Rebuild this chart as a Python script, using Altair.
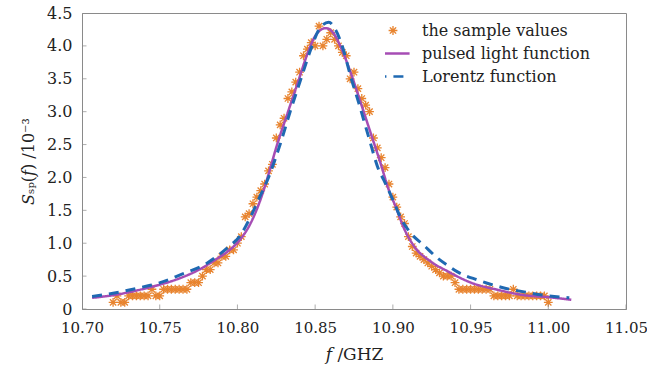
import altair as alt
import pandas as pd

# ---------------- data ----------------
series_names = ["the sample values", "pulsed light function", "Lorentz function"]
series_colors = ["#E8842F", "#A64DB4", "#1F69B2"]

sample_freq = [
    10.7200, 10.7225, 10.7250, 10.7275, 10.7300, 10.7325, 10.7350, 10.7375, 10.7400, 10.7425,
    10.7450, 10.7475, 10.7500, 10.7525, 10.7550, 10.7575, 10.7600, 10.7625, 10.7650, 10.7675,
    10.7700, 10.7725, 10.7750, 10.7775, 10.7800, 10.7825, 10.7850, 10.7875, 10.7900, 10.7925,
    10.7950, 10.7975, 10.8000, 10.8025, 10.8050, 10.8075, 10.8100, 10.8125, 10.8150, 10.8175,
    10.8200, 10.8225, 10.8250, 10.8275, 10.8300, 10.8325, 10.8350, 10.8375, 10.8400, 10.8425,
    10.8450, 10.8475, 10.8500, 10.8525, 10.8550, 10.8575, 10.8600, 10.8625, 10.8650, 10.8675,
    10.8700, 10.8725, 10.8750, 10.8775, 10.8800, 10.8825, 10.8850, 10.8875, 10.8900, 10.8925,
    10.8950, 10.8975, 10.9000, 10.9025, 10.9050, 10.9075, 10.9100, 10.9125, 10.9150, 10.9175,
    10.9200, 10.9225, 10.9250, 10.9275, 10.9300, 10.9325, 10.9350, 10.9375, 10.9400, 10.9425,
    10.9450, 10.9475, 10.9500, 10.9525, 10.9550, 10.9575, 10.9600, 10.9625, 10.9650, 10.9675,
    10.9700, 10.9725, 10.9750, 10.9775, 10.9800, 10.9825, 10.9850, 10.9875, 10.9900, 10.9925,
    10.9950, 10.9975, 11.0000,
]
sample_vals = [
    0.1, 0.2, 0.1, 0.1, 0.2, 0.2, 0.2, 0.2, 0.2, 0.2,
    0.3, 0.2, 0.2, 0.3, 0.3, 0.3, 0.3, 0.3, 0.3, 0.3,
    0.4, 0.4, 0.4, 0.5, 0.6, 0.6, 0.7, 0.7, 0.8, 0.8,
    0.9, 0.9, 1.0, 1.1, 1.4, 1.45, 1.6, 1.7, 1.8, 1.9,
    2.1, 2.2, 2.6, 2.8, 2.9, 3.2, 3.3, 3.45, 3.6, 3.85,
    3.95, 4.05, 4.0, 4.3, 4.0, 4.1, 4.2, 4.1, 4.0, 3.9,
    3.85, 3.5, 3.6, 3.35, 3.2, 3.1, 3.0, 2.6, 2.45, 2.3,
    2.15, 1.9, 1.7, 1.55, 1.4, 1.3, 1.1, 0.95, 0.85, 0.8,
    0.75, 0.7, 0.65, 0.6, 0.55, 0.5, 0.5, 0.5, 0.4, 0.3,
    0.3, 0.3, 0.3, 0.3, 0.3, 0.3, 0.3, 0.3, 0.2, 0.2,
    0.2, 0.2, 0.2, 0.3, 0.2, 0.2, 0.2, 0.2, 0.2, 0.2,
    0.2, 0.2, 0.1,
]

pulsed_freq = [
    10.7065, 10.7200, 10.7419, 10.7632, 10.7755, 10.7865, 10.7935, 10.8019, 10.8084, 10.8168,
    10.8194, 10.8258, 10.8323, 10.8387, 10.8452, 10.8503, 10.8568, 10.8619, 10.8665, 10.8729,
    10.8794, 10.8858, 10.8923, 10.8968, 10.9019, 10.9071, 10.9135, 10.9245, 10.9355, 10.9503,
    10.9677, 10.9845, 11.0000, 11.0148,
]
pulsed_vals = [
    0.17, 0.21, 0.32, 0.47, 0.60, 0.76, 0.87, 1.06, 1.30, 1.80,
    2.00, 2.52, 2.98, 3.43, 3.89, 4.16, 4.27, 4.19, 3.98, 3.59,
    3.13, 2.67, 2.20, 1.85, 1.55, 1.23, 0.96, 0.72, 0.57, 0.40,
    0.29, 0.21, 0.18, 0.14,
]

lorentz_freq = [
    10.7065, 10.7200, 10.7419, 10.7503, 10.7632, 10.7806, 10.7935, 10.8019, 10.8084, 10.8135,
    10.8200, 10.8277, 10.8342, 10.8406, 10.8471, 10.8523, 10.8587, 10.8632, 10.8677, 10.8729,
    10.8781, 10.8845, 10.8910, 10.8942, 10.9000, 10.9052, 10.9116, 10.9194, 10.9290, 10.9355,
    10.9419, 10.9548, 10.9697, 10.9845, 11.0000, 11.0135,
]
lorentz_vals = [
    0.19, 0.24, 0.35, 0.40, 0.52, 0.70, 0.93, 1.12, 1.40, 1.66,
    2.00, 2.52, 3.02, 3.48, 3.94, 4.24, 4.36, 4.24, 3.98, 3.53,
    3.13, 2.61, 2.11, 1.96, 1.66, 1.38, 1.15, 0.98, 0.77, 0.66,
    0.56, 0.44, 0.33, 0.26, 0.20, 0.17,
]

x_tick_values = [10.70, 10.75, 10.80, 10.85, 10.90, 10.95, 11.00, 11.05]
y_tick_values = [0, 0.5, 1.0, 1.5, 2.0, 2.5, 3.0, 3.5, 4.0, 4.5]

# ---------------- chart ----------------
FONT = "DejaVu Serif"
AXIS_GREY = "#8a8a8a"
SYMBOL_SIZE = 1100
ASTERISK = ("M-0.265,0L0.265,0M0,-0.265L0,0.265"
            "M-0.19,-0.19L0.19,0.19M-0.19,0.19L0.19,-0.19")

sample_df = pd.DataFrame({"f": sample_freq, "s": sample_vals, "series": series_names[0]})
pulsed_df = pd.DataFrame({"f": pulsed_freq, "s": pulsed_vals, "series": series_names[1]})
lorentz_df = pd.DataFrame({"f": lorentz_freq, "s": lorentz_vals, "series": series_names[2]})
xt_df = pd.DataFrame({"f": x_tick_values})
yt_df = pd.DataFrame({"s": y_tick_values})

x_scale = alt.Scale(domain=[10.70, 11.05], nice=False, zero=False)
y_scale = alt.Scale(domain=[0, 4.5], nice=False, zero=False)

x_axis = alt.Axis(
    values=x_tick_values, format=".2f", title="𝑓 /GHZ",
    ticks=False, tickSize=0, grid=False, labelPadding=11, titlePadding=11,
    labelFlush=False, labelOverlap=False, labelFontSize=15)
y_axis = alt.Axis(
    values=y_tick_values, format=".1f",
    labelExpr="datum.value == 0 ? '0' : datum.label",
    title="𝑆ₛₚ(𝑓) /10⁻³", titleFontSize=16,
    ticks=False, tickSize=0, grid=False, labelPadding=10, titlePadding=10,
    labelFlush=False, labelOverlap=False)

x_enc = alt.X("f:Q", scale=x_scale, axis=x_axis)
y_enc = alt.Y("s:Q", scale=y_scale, axis=y_axis)

legend = alt.Legend(
    title=None,
    symbolStrokeWidth={"expr": "datum.value === 'the sample values' ? 1.3 : 2.5"},
)
color = alt.Color("series:N", scale=alt.Scale(domain=series_names, range=series_colors),
                  legend=legend)
shape = alt.Shape("series:N", scale=alt.Scale(domain=series_names,
                                              range=[ASTERISK, "stroke", "stroke"]),
                  legend=legend)
dash = alt.StrokeDash("series:N", scale=alt.Scale(domain=series_names,
                                                  range=[[1, 0], [1, 0], [10, 7]]),
                      legend=legend)

points = alt.Chart(sample_df).mark_point(
    filled=False, size=SYMBOL_SIZE, strokeWidth=1.3, opacity=1
).encode(x=x_enc, y=y_enc, color=color, shape=shape)

pulsed = alt.Chart(pulsed_df).mark_line(
    strokeWidth=2.5, interpolate="monotone"
).encode(x=x_enc, y=y_enc, color=color, strokeDash=dash)

lorentz = alt.Chart(lorentz_df).mark_line(
    strokeWidth=3, interpolate="monotone"
).encode(x=x_enc, y=y_enc, color=color, strokeDash=dash)

x_ticks = alt.Chart(xt_df).mark_tick(
    orient="vertical", size=9, thickness=1, color=AXIS_GREY, clip=True
).encode(x=x_enc, y=alt.YDatum(0, scale=y_scale, axis=y_axis))

y_ticks = alt.Chart(yt_df).mark_tick(
    orient="horizontal", size=9, thickness=1, color=AXIS_GREY, clip=True
).encode(y=y_enc, x=alt.XDatum(10.70, scale=x_scale, axis=x_axis))

chart = alt.layer(points, pulsed, lorentz, x_ticks, y_ticks).properties(
    width=544, height=296,
    autosize=alt.AutoSizeParams(type="none"),
    padding={"left": 82, "top": 13, "right": 21, "bottom": 68},
    background="white",
).configure_view(
    stroke=AXIS_GREY, strokeWidth=1
).configure_axis(
    domainColor=AXIS_GREY, domainWidth=1,
    labelFont=FONT, labelFontSize=16, labelColor="#222222",
    titleFont=FONT, titleFontSize=17, titleColor="#222222", titleFontWeight="normal",
).configure_legend(
    orient="none", legendX=303, legendY=6, padding=0,
    labelFont=FONT, labelFontSize=16, labelColor="#222222",
    symbolSize=SYMBOL_SIZE, labelOffset=21,
    clipHeight=23, rowPadding=0, labelLimit=300,
)

chart.save("out.html", embed_options={"renderer": "svg", "actions": False})
